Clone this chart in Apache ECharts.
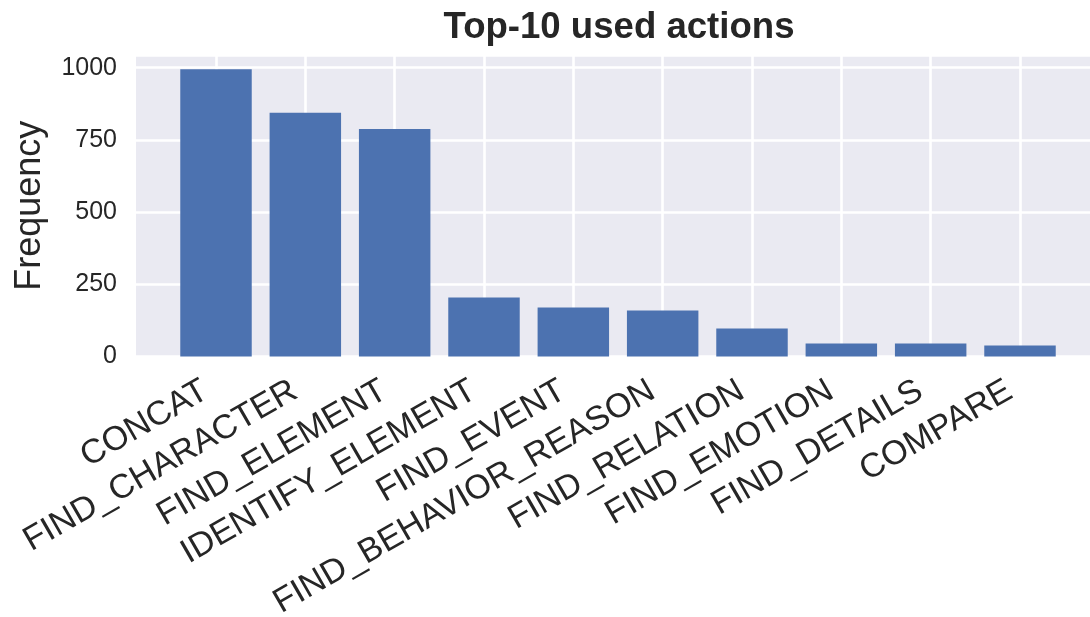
<!DOCTYPE html>
<html>
<head>
<meta charset="utf-8">
<script src="https://cdn.jsdelivr.net/npm/echarts@6/dist/echarts.min.js"></script>
<style>
  html, body { margin: 0; padding: 0; background: #ffffff; }
  #chart { width: 1090px; height: 617px; }
</style>
</head>
<body>
<div id="chart"></div>
<script>
// Action names and how often each one was used
const actions = [
  'CONCAT', 'FIND_CHARACTER', 'FIND_ELEMENT', 'IDENTIFY_ELEMENT', 'FIND_EVENT',
  'FIND_BEHAVIOR_REASON', 'FIND_RELATION', 'FIND_EMOTION', 'FIND_DETAILS', 'COMPARE'
];
const frequency = [995, 844, 788, 204, 170, 159, 97, 45, 45, 38];
const yTicks = [0, 250, 500, 750, 1000];

const FONT = '"Liberation Sans", Arial, Helvetica, sans-serif';
const TEXT = '#262626';
const W = 1090;

// plot frame
const plotLeft = 136, plotTop = 55, plotBottom = 356.5;
const firstCenter = 216, lastCenter = 1020;
const yMax = 1044;
const bandWidth = (lastCenter - firstCenter) / (actions.length - 1);

const chart = echarts.init(document.getElementById('chart'), null, { renderer: 'canvas' });

chart.setOption({
  backgroundColor: '#ffffff',
  animation: false,
  title: {
    text: 'Top-10 used actions',
    left: 619,
    top: 9,
    padding: 0,
    textAlign: 'center',
    textStyle: { fontFamily: FONT, fontSize: 36.6, fontWeight: 'bold', color: TEXT }
  },
  grid: [
    // shaded background panel with horizontal grid lines
    { left: plotLeft, right: -20, top: plotTop, bottom: 617 - plotBottom,
      outerBoundsMode: 'none', containLabel: false,
      show: true, backgroundColor: '#eaeaf2', borderWidth: 0 },
    // bar area: spans first to last category centre
    { left: firstCenter, right: W - lastCenter, top: plotTop, bottom: 617 - plotBottom,
      outerBoundsMode: 'none', containLabel: false,
      show: false }
  ],
  xAxis: [
    { gridIndex: 0, type: 'value', min: 0, max: 1, show: false },
    {
      gridIndex: 1, type: 'value', min: 0, max: actions.length - 1, interval: 1,
      axisLine: { show: false }, axisTick: { show: false },
      splitLine: { show: true, lineStyle: { color: '#ffffff', width: 2.6 } },
      axisLabel: {
        rotate: 30, margin: 26, padding: [0, 12, 0, 0],
        fontFamily: FONT, fontSize: 34, color: TEXT,
        formatter: v => (Number.isInteger(v) && actions[v] !== undefined) ? actions[v] : ''
      }
    }
  ],
  yAxis: [
    {
      gridIndex: 0, type: 'value', min: 0, max: yMax, interval: 250,
      name: 'Frequency', nameLocation: 'middle', nameGap: 88, nameRotate: 90,
      nameTextStyle: { fontFamily: FONT, fontSize: 36, color: TEXT },
      axisLine: { show: false }, axisTick: { show: false },
      splitLine: { show: true, lineStyle: { color: '#ffffff', width: 2.6 } },
      axisLabel: {
        margin: 19, fontFamily: FONT, fontSize: 25, color: TEXT,
        formatter: v => yTicks.includes(v) ? String(v) : ''
      }
    },
    { gridIndex: 1, type: 'value', min: 0, max: yMax, show: false }
  ],
  series: [{
    type: 'bar',
    xAxisIndex: 1,
    yAxisIndex: 1,
    clip: false,
    barWidth: bandWidth * 0.8,
    itemStyle: { color: '#4c72b0' },
    data: frequency.map((v, i) => [i, v])
  }]
});
</script>
</body>
</html>
